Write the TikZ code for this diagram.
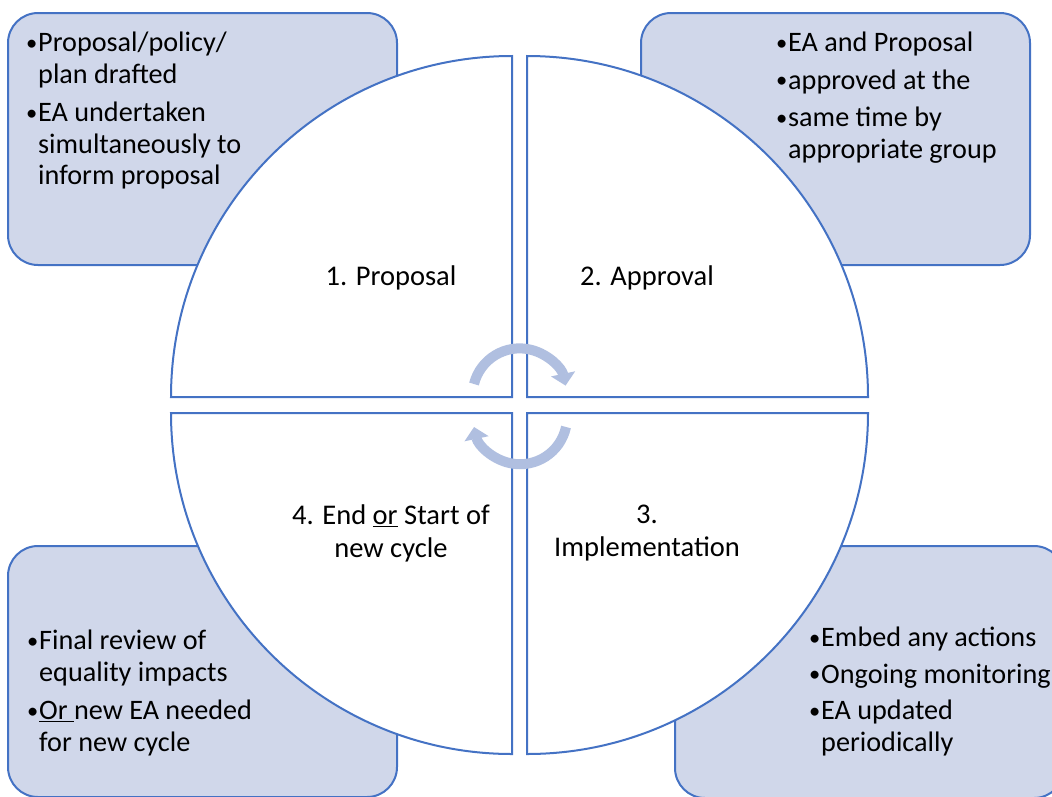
\documentclass[tikz,border=0pt]{standalone}
\usepackage{fontspec}
\setmainfont{Carlito}
\usepackage{tikz}
\usetikzlibrary{arrows.meta}
\definecolor{accent}{HTML}{4472C4}
\definecolor{tint}{HTML}{D0D7EA}
\definecolor{cyc}{HTML}{B0BFE0}
\newcommand{\bul}{\makebox[13pt][l]{\hspace*{1pt}\raisebox{1.5pt}{\scalebox{0.8}{\textbullet}}}}
\newcommand{\ind}{\hspace*{13pt}}

\begin{document}
\begin{tikzpicture}[x=1pt, y=-1pt,
      corner/.style={draw=accent, fill=tint, line width=2pt, rounded corners=30pt},
      quad/.style={draw=accent, fill=white, line width=2pt},
      lbl/.style={font=\fontsize{28.5}{33}\selectfont, align=center, inner sep=0pt},
      pts/.style={font=\fontsize{28.2}{31.5}\selectfont, align=left, inner sep=0pt, anchor=north west},
      turn/.style={draw=cyc, line width=10pt, -{Triangle[length=12pt, width=24pt]}},
    ]
    \useasboundingbox (0,0) rectangle (1052,796);
    \clip (0,0) rectangle (1052,796);

    % boxes behind the circle
    \draw[corner] (8,13) rectangle (397,265);
    \draw[corner] (641,13) rectangle (1030,265);
    \draw[corner] (8,546) rectangle (397,797);
    \draw[corner] (675,546) rectangle (1064,798);

    % quarters
    \draw[quad] (512,397) -- (512,56) arc[start angle=90, end angle=180, radius=341pt] -- cycle;
    \draw[quad] (527,397) -- (527,56) arc[start angle=90, end angle=0, radius=341pt] -- cycle;
    \draw[quad] (527,413) -- (868,413) arc[start angle=0, end angle=-90, radius=341pt] -- cycle;
    \draw[quad] (512,413) -- (512,754) arc[start angle=-90, end angle=-180, radius=341pt] -- cycle;

    % cycle arrows
    \coordinate (c1) at (474,384);
    \coordinate (c2) at (566,427);
    \draw[turn] (c1) arc[start angle=166, end angle=12, radius=47pt];
    \draw[turn] (c2) arc[start angle=-12, end angle=-168, radius=47pt];

    % stage labels
    \node[lbl, anchor=base] (s1) at (391,285) {1. Proposal};
    \node[lbl, anchor=base] (s2) at (647,285) {2. Approval};
    \node[lbl, anchor=north] (s4) at (391,505) {4. End \underline{or} Start of\\new cycle};
    \node[lbl, anchor=north] (s3) at (647,505) {3.\\Implementation};

    % box texts
    \node[pts] (b1) at (25,32) {\bul Proposal/policy/\\\ind plan drafted\\[7pt]
      \bul EA undertaken\\\ind simultaneously to\\\ind inform proposal};
    \node[pts] (b2) at (775,32) {\bul EA and Proposal\\[6pt]\bul approved at the\\[6pt]
      \bul same time by\\\ind appropriate group};
    \node[pts] (b4) at (26,630) {\bul Final review of\\\ind equality impacts\\[7pt]
      \bul\underline{Or\ }new EA needed\\\ind for new cycle};
    \node[pts] (b3) at (808,627) {\bul Embed any actions\\[5pt]\bul Ongoing monitoring\\[5pt]
      \bul EA updated\\\ind periodically};
  \end{tikzpicture}
\end{document}
